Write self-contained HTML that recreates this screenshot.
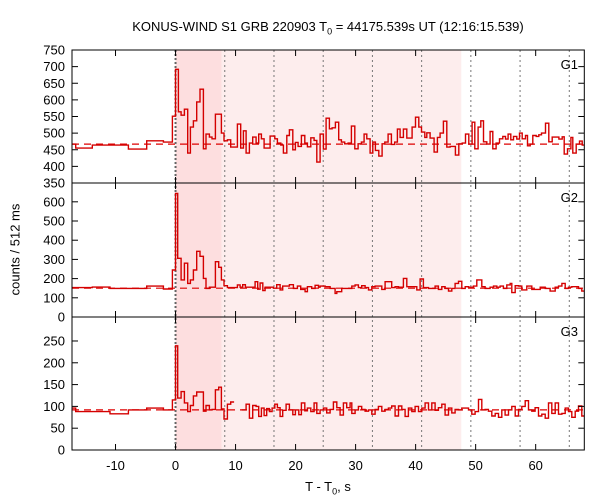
<!DOCTYPE html>
<html><head><meta charset="utf-8"><style>
body{margin:0;background:#fff;}
svg{display:block;font-family:"Liberation Sans",sans-serif;}
</style></head><body>
<svg id="chart" width="600" height="500"></svg>
<script>
const xTicks=[-10,0,10,20,30,40,50,60];
const dottedTimes=[8.2,16.4,24.6,32.8,41.0,49.2,57.4,65.6];
const darkRegion=[0,7.7];
const lightRegion=[7.7,47.6];
const g1Ticks=[350,400,450,500,550,600,650,700,750];
const g2Ticks=[0,100,200,300,400,500,600];
const g3Ticks=[0,50,100,150,200,250];
const g1Bg=467, g2Bg=150, g3Bg=92;
const g1Times=[-17.3,-16.64,-13.86,-7.86,-4.81,-2.03,-0.53,0,0.47,0.92,1.47,2.03,2.47,2.97,3.53,4.08,4.64,5.08,5.64,6.08,6.64,7.64,8.08,8.64,9.19,10.31,10.86,11.31,11.75,12.31,12.86,13.42,13.86,14.31,14.75,15.75,16.53,16.97,17.53,17.97,18.53,18.97,19.53,19.97,20.42,20.97,21.53,21.97,22.53,23.08,23.53,24.08,24.64,25.08,25.64,26.08,26.64,
27.19,27.64,28.19,28.75,29.3,29.86,30.41,30.97,31.41,31.86,32.41,32.86,33.3,33.86,34.41,34.86,35.41,35.97,36.52,36.97,37.41,37.97,38.52,39.41,39.97,40.52,40.97,41.52,41.86,42.41,43.08,43.63,44.08,44.63,45.19,45.75,46.63,47.19,47.75,48.3,48.86,49.41,49.86,50.41,50.86,51.3,51.86,52.41,52.86,53.41,53.97,54.52,54.97,55.41,55.86,56.3,56.86,57.3,57.75,58.3,58.63,59.08,59.52,60.08,60.52,60.97,61.63,62.19,62.75,63.86,64.41,64.75,65.3,65.86,66.19,66.75,67.3,67.75];
const g1Values=[467,455,464,452,477,473,551,692,564,554,572,440,518,537,594,632,453,497,488,483,557,500,477,480,458,527,455,507,440,470,488,470,497,483,455,491,483,470,464,440,493,510,450,472,460,493,470,459,486,478,413,497,452,545,513,516,533,
480,473,468,470,521,453,468,473,497,483,440,473,448,431,468,473,497,466,473,512,487,512,485,518,548,518,503,487,501,485,443,487,500,536,458,460,434,468,470,497,467,533,453,518,537,474,467,505,453,470,483,490,482,497,480,490,482,500,483,493,462,467,493,490,495,500,530,474,488,482,489,437,453,487,440,467,476,464];
const g2Times=[-17.3,-13.86,-10.92,-4.81,-2.03,-0.53,0,0.36,0.92,1.47,2.03,2.47,2.97,3.53,4.08,4.64,5.08,5.64,6.08,6.64,7.19,7.64,8.08,8.64,10.31,10.75,11.19,11.64,13.25,13.69,14.08,14.53,14.92,16.31,16.86,17.42,17.86,18.97,19.64,20.31,20.86,21.58,21.97,22.69,23.25,23.81,
24.08,24.91,25.75,26.58,26.86,27.69,29.36,29.91,30.47,31.02,31.58,32.14,32.69,33.25,34.36,34.91,36.02,36.58,37.14,37.97,38.52,40.19,40.75,41.3,42.14,43.25,43.8,44.36,44.91,45.47,46.02,46.58,47.14,47.69,48.25,48.8,49.63,50.19,51.02,51.58,52.41,52.97,53.52,54.08,54.63,55.19,55.75,56.02,56.58,57.13,57.69,58.52,59.36,60.75,61.58,62.41,63.25,63.8,64.36,64.91,65.47,66.02,67.13,67.69];
const g2Values=[153,156,149,161,146,245,644,306,193,280,175,193,245,342,316,201,149,155,155,288,259,193,163,153,167,155,168,155,184,145,177,138,155,150,168,141,161,168,149,161,144,132,158,149,165,155,
161,158,149,123,132,149,161,167,153,163,153,141,158,161,144,184,153,158,155,201,158,141,198,153,149,161,144,158,149,135,149,175,186,149,158,155,161,193,158,149,155,161,155,161,149,167,175,127,163,161,141,161,144,155,149,135,155,161,175,149,155,158,149,135];
const g3Times=[-17.3,-16.64,-10.92,-7.86,-4.81,-2.03,-0.53,0,0.36,0.92,1.47,2.03,2.47,2.97,3.53,4.64,5.08,5.64,6.08,6.64,7.19,7.64,8.08,8.64,9.19,9.75,11.03,11.75,12.31,12.86,13.42,13.86,14.31,14.75,15.19,15.64,16.08,16.53,16.97,17.42,17.86,18.42,18.97,19.53,19.97,20.53,20.97,21.53,21.97,22.53,23.08,23.53,
24.08,24.64,25.19,25.75,26.3,26.86,27.41,27.97,28.52,29.08,29.36,29.91,30.47,31.02,31.58,32.14,32.69,33.25,33.8,34.36,34.91,35.47,36.02,36.58,37.14,37.69,38.25,38.8,39.36,39.91,40.47,41.02,41.58,42.14,42.69,43.25,43.8,44.36,44.91,45.47,46.02,46.58,47.14,47.69,48.8,49.36,49.91,50.47,51.02,51.58,52.13,52.69,53.25,53.8,54.36,54.91,55.47,56.02,56.58,57.13,57.69,58.25,58.8,59.36,59.91,60.47,61.02,61.58,62.13,62.69,63.25,63.8,64.36,64.91,65.47,66.02,66.58,67.13,67.69];
const g3Values=[96,88,83,92,96,92,115,239,119,134,108,88,102,124,133,89,102,92,93,138,144,94,71,105,110,null,92,105,73,102,100,77,96,79,95,88,96,105,97,77,91,105,92,81,92,81,108,90,96,88,108,84,
92,96,85,93,110,97,80,108,97,108,84,92,100,93,89,92,82,93,100,89,93,96,101,78,101,93,77,96,88,100,88,96,108,92,108,91,97,105,80,96,85,93,92,96,92,82,88,116,92,93,89,78,84,75,92,80,92,100,78,93,100,113,92,89,97,78,82,73,108,84,108,82,84,96,88,75,89,101,78];

const svg=document.getElementById('chart');
const NS='http://www.w3.org/2000/svg';
const X0=72,X1=584.3,T0=-17.25,T1=68.1;
const xs=t=>X0+(t-T0)/(T1-T0)*(X1-X0);
function mk(tag,attrs,parent){const e=document.createElementNS(NS,tag);for(const k in attrs)e.setAttribute(k,attrs[k]);(parent||svg).appendChild(e);return e;}
const panels=[
 {name:'g1',label:'G1',top:50,bot:183,min:350,max:750,ticks:g1Ticks,times:g1Times,values:g1Values,bg:g1Bg},
 {name:'g2',label:'G2',top:183,bot:317,min:0,max:698,ticks:g2Ticks,times:g2Times,values:g2Values,bg:g2Bg},
 {name:'g3',label:'G3',top:317,bot:450,min:0,max:305,ticks:g3Ticks,times:g3Times,values:g3Values,bg:g3Bg}
];
// shading
let r=mk('rect',{x:xs(darkRegion[0]),y:50,width:xs(darkRegion[1])-xs(darkRegion[0]),height:400,fill:'#fddedf'});


r=mk('rect',{x:xs(lightRegion[0]),y:50,width:xs(lightRegion[1])-xs(lightRegion[0]),height:400,fill:'#fdeded'});


// dotted lines
let l=mk('line',{x1:xs(0),x2:xs(0),y1:50,y2:450,stroke:'#666','stroke-width':2,'stroke-dasharray':'2,2'});


dottedTimes.forEach(t=>{
 const d=mk('line',{x1:xs(t),x2:xs(t),y1:50,y2:450,stroke:'#777','stroke-width':1,'stroke-dasharray':'2,3'});
 
 
});
panels.forEach(p=>{
 const ys=v=>p.bot-(v-p.min)/(p.max-p.min)*(p.bot-p.top);
 const g=mk('g',{});
 
 
 const bgl=mk('line',{x1:X0,x2:X1,y1:ys(p.bg),y2:ys(p.bg),stroke:'#d00','stroke-width':1.2,'stroke-dasharray':'7,5'},g);
 
 
 let d='',pen=false;
 const n=Math.min(p.times.length,p.values.length);
 for(let i=0;i<n;i++){
  const v=p.values[i];const t0=Math.max(p.times[i],T0);const t1=i+1<n?p.times[i+1]:T1;
  if(v===null){pen=false;continue;}
  const y=ys(v).toFixed(1);
  if(!pen){d+='M'+xs(t0).toFixed(1)+','+y;pen=true;}else d+='V'+y;
  d+='H'+xs(t1).toFixed(1);
 }
 const path=mk('path',{d:d,fill:'none',stroke:'#d40000','stroke-width':1.4},g);
 
 
 const fr=mk('rect',{x:X0,y:p.top,width:X1-X0,height:p.bot-p.top,fill:'none',stroke:'#000','stroke-width':1},g);
 
 
 p.ticks.forEach(v=>{
  const y=ys(v);
  mk('line',{x1:X0,x2:X0+6,y1:y,y2:y,stroke:'#000'},g);
  mk('line',{x1:X1-6,x2:X1,y1:y,y2:y,stroke:'#000'},g);
  const tx=mk('text',{x:X0-7,y:y+4.5,'text-anchor':'end','font-size':13,fill:'#000'},g);
  tx.textContent=v;
  
  
 });
 xTicks.forEach(t=>{
  mk('line',{x1:xs(t),x2:xs(t),y1:p.top,y2:p.top+6,stroke:'#000'},g);
  mk('line',{x1:xs(t),x2:xs(t),y1:p.bot-6,y2:p.bot,stroke:'#000'},g);
 });
 const lb=mk('text',{x:578,y:p.top+19,'text-anchor':'end','font-size':13,fill:'#000'},g);
 lb.textContent=p.label;
 
 
});
xTicks.forEach(t=>{
 const tx=mk('text',{x:xs(t),y:470,'text-anchor':'middle','font-size':13,fill:'#000'});
 tx.textContent=t;
 
 
});
</script>
<svg width="0" height="0"></svg>
<div style="position:absolute;left:0;top:0;width:600px;height:500px;pointer-events:none;font-family:'Liberation Sans',sans-serif;color:#000">
 <div style="position:absolute;left:0;width:656px;top:19px;text-align:center;font-size:13px;">KONUS-WIND S1 GRB 220903 T<sub style="font-size:9px">0</sub> = 44175.539s UT (12:16:15.539)</div>
 <div style="position:absolute;left:0;width:656px;top:479px;text-align:center;font-size:13px;">T - T<sub style="font-size:9px">0</sub>, s</div>
 <div style="position:absolute;left:-70px;top:242px;width:170px;text-align:center;font-size:13px;transform:rotate(-90deg);">counts / 512 ms</div>
</div>
</body></html>
